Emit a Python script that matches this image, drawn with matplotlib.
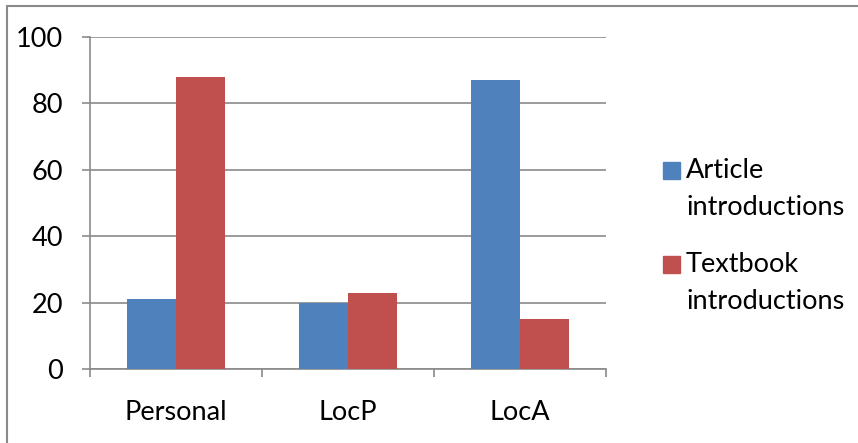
import matplotlib.pyplot as plt
import matplotlib.patches as mpatches
import numpy as np

# dados
categorias = ["Personal", "LocP", "LocA"]
artigo = [21, 20, 87]
livro = [88, 23, 15]
series = ["Article\nintroductions", "Textbook\nintroductions"]
cores = ['#4F81BD', '#C0504D']
yticks = [0, 20, 40, 60, 80, 100]

plt.rcParams['font.family'] = ['Lato', 'DejaVu Sans']
cinza = '#8a8a8a'
fs = 19.5

W, H = 858, 443
fig = plt.figure(figsize=(W / 100, H / 100), dpi=100)
ax = fig.add_axes([90 / W, 1 - 369 / H, 516 / W, 332 / H])

x = np.arange(len(categorias))
w = 0.285
ax.bar(x - w / 2, artigo, w, color=cores[0], zorder=3)
ax.bar(x + w / 2, livro, w, color=cores[1], zorder=3)

ax.set_xlim(-0.5, 2.5)
ax.set_ylim(0, 100)
ax.set_yticks(yticks)
ax.yaxis.grid(True, color=cinza, linewidth=1.2, zorder=0)

# ticks nos limites das categorias, rótulos no centro
ax.set_xticks([-0.5, 0.5, 1.5, 2.5])
ax.set_xticklabels([])
ax.set_xticks(x, minor=True)
ax.set_xticklabels(categorias, minor=True)
ax.tick_params(axis='x', which='major', length=6, width=1.2, color=cinza, direction='out')
ax.tick_params(axis='x', which='minor', length=0, pad=22, labelsize=fs)
ax.tick_params(axis='y', length=5.8, width=1.2, color=cinza, labelsize=fs, pad=13.5)

for s in ['top', 'right']:
    ax.spines[s].set_visible(False)
for s in ['left', 'bottom']:
    ax.spines[s].set_color(cinza)
    ax.spines[s].set_linewidth(1.2)

# legenda: quadrado alinhado com a primeira linha do rótulo
leg_topo = [162, 256]
for i, nome in enumerate(series):
    y0 = leg_topo[i]
    fig.patches.append(mpatches.Rectangle((663 / W, 1 - (y0 + 17) / H), 17 / W, 17 / H,
                                          transform=fig.transFigure, color=cores[i]))
    for j, linha in enumerate(nome.split("\n")):
        fig.text(686 / W, 1 - (y0 + 16 + 37 * j) / H, linha, fontsize=fs,
                 va='baseline', ha='left')

# moldura do gráfico
fig.patches.append(mpatches.Rectangle((7 / W, -0.05), 1.1, 1 - 6 / H + 0.05,
                                      transform=fig.transFigure, fill=False,
                                      edgecolor=cinza, linewidth=1.5))

fig.savefig("out.png", dpi=100)
